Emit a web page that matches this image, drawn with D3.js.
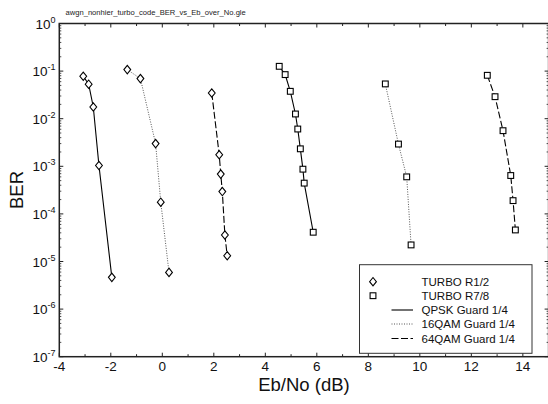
<!DOCTYPE html>
<html><head><meta charset="utf-8">
<script src="https://cdn.jsdelivr.net/npm/d3@7"></script>
<style>body{margin:0;background:#fff}svg{display:block;font-family:"Liberation Sans",Arial,sans-serif}</style>
</head><body>
<svg id="c" width="548" height="404"></svg>
<script>
const titleText = "awgn_nonhier_turbo_code_BER_vs_Eb_over_No.gle";
const xTicks = [-4,-2,0,2,4,6,8,10,12,14];
const yExps = [0,-1,-2,-3,-4,-5,-6,-7];

const qpskR12_x = [-3.07,-2.86,-2.68,-2.46,-1.96];
const qpskR12_y = [0.078,0.053,0.0176,1.04e-3,4.65e-6];
const qam16R12_x = [-1.36,-0.85,-0.26,-0.06,0.26];
const qam16R12_y = [0.1075,0.0695,3.0e-3,1.76e-4,5.9e-6];
const qam64R12_x = [1.92,2.21,2.27,2.33,2.43,2.52];
const qam64R12_y = [0.0347,1.75e-3,6.85e-4,2.95e-4,3.6e-5,1.32e-5];
const qpskR78_x = [4.54,4.77,4.97,5.17,5.26,5.36,5.46,5.51,5.86];
const qpskR78_y = [0.126,0.0844,0.0376,0.01256,6.07e-3,2.33e-3,8.7e-4,4.43e-4,4.12e-5];
const qam16R78_x = [8.66,9.17,9.49,9.66];
const qam16R78_y = [0.0538,2.93e-3,6.0e-4,2.23e-5];
const qam64R78_x = [12.62,12.92,13.23,13.53,13.62,13.71];
const qam64R78_y = [0.0816,0.029,5.6e-3,6.4e-4,1.9e-4,4.6e-5];

const legendLabels = ["TURBO R1/2","TURBO R7/8","QPSK Guard 1/4","16QAM Guard 1/4","64QAM Guard 1/4"];

const L=59.3, R=548.6, T=23.5, B=356.7;
const x = d3.scaleLinear().domain([-4,15]).range([L,R]);
const y = d3.scaleLog().domain([1e-7,1]).range([B,T]);
const svg = d3.select("#c");
const axisCol = "#222";

const styles = {
  solid: {dash:null, col:"#000", w:1.1},
  dotted: {dash:"1,1.5", col:"#555", w:1},
  dashed: {dash:"7,2.5", col:"#000", w:1.1}
};
const series = [
  {x:qpskR12_x,y:qpskR12_y,m:"diamond",s:"solid"},
  {x:qam16R12_x,y:qam16R12_y,m:"diamond",s:"dotted"},
  {x:qam64R12_x,y:qam64R12_y,m:"diamond",s:"dashed"},
  {x:qpskR78_x,y:qpskR78_y,m:"square",s:"solid"},
  {x:qam16R78_x,y:qam16R78_y,m:"square",s:"dotted"},
  {x:qam64R78_x,y:qam64R78_y,m:"square",s:"dashed"}
];

// title
svg.append("text").attr("x",65.5).attr("y",14.5).attr("font-size",7.6).attr("fill","#222").text(titleText);

// minor/major ticks
const g = svg.append("g").attr("stroke",axisCol);
const xMinor = d3.range(-4,16,1);
xMinor.forEach(v=>{
  const major = v%2===0;
  const len = major?4:2.5;
  g.append("line").attr("x1",x(v)).attr("x2",x(v)).attr("y1",B).attr("y2",B-len).attr("stroke-width",1);
  g.append("line").attr("x1",x(v)).attr("x2",x(v)).attr("y1",T).attr("y2",T+len).attr("stroke-width",1);
});
for(let e=-7;e<=0;e++){
  const major=[Math.pow(10,e)];
  const list=[];
  if(e<0){ for(let k=2;k<=9;k++) list.push(k*Math.pow(10,e)); }
  g.append("line").attr("x1",L).attr("x2",L+4).attr("y1",y(major[0])).attr("y2",y(major[0])).attr("stroke-width",1);
  g.append("line").attr("x1",R).attr("x2",R-4).attr("y1",y(major[0])).attr("y2",y(major[0])).attr("stroke-width",1);
  list.forEach(v=>{
    g.append("line").attr("x1",L).attr("x2",L+2).attr("y1",y(v)).attr("y2",y(v)).attr("stroke-width",0.8);
    g.append("line").attr("x1",R).attr("x2",R-2).attr("y1",y(v)).attr("y2",y(v)).attr("stroke-width",0.8);
  });
}
// frame
svg.append("rect").attr("x",L).attr("y",T).attr("width",R-L).attr("height",B-T)
  .attr("fill","none").attr("stroke",axisCol).attr("stroke-width",1.5);

// x tick labels
xTicks.forEach(v=>{
  svg.append("text").attr("x",x(v)).attr("y",B+14.5).attr("text-anchor","middle")
    .attr("font-size",13.5).attr("fill","#111").text(v);
});
// y tick labels
yExps.forEach(e=>{
  const t = svg.append("text").attr("x",55.5).attr("y",y(Math.pow(10,e))+5).attr("text-anchor","end")
    .attr("font-size",13.5).attr("fill","#111");
  t.append("tspan").text("10");
  t.append("tspan").attr("dy",-6).attr("font-size",9).text(e);
});
// axis titles
svg.append("text").attr("x",304).attr("y",391).attr("text-anchor","middle").attr("font-size",18.5).attr("fill","#111").text("Eb/No (dB)");
svg.append("text").attr("transform","translate(23,190) rotate(-90)").attr("text-anchor","middle").attr("font-size",18.5).attr("fill","#111").text("BER");

// series
const line = d3.line().x(d=>x(d[0])).y(d=>y(d[1]));
function marker(sel,type,cx,cy){
  if(type==="diamond"){
    sel.append("path").attr("d",`M${cx},${cy-4.2}L${cx+3.4},${cy}L${cx},${cy+4.2}L${cx-3.4},${cy}Z`)
      .attr("fill","#fff").attr("stroke","#000").attr("stroke-width",1.1);
  } else {
    sel.append("rect").attr("x",cx-2.9).attr("y",cy-2.9).attr("width",5.8).attr("height",5.8)
      .attr("fill","#fff").attr("stroke","#000").attr("stroke-width",1.1);
  }
}
series.forEach(s=>{
  const pts = s.x.map((v,i)=>[v,s.y[i]]);
  const st = styles[s.s];
  svg.append("path").attr("d",line(pts)).attr("fill","none").attr("stroke",st.col)
    .attr("stroke-width",st.w).attr("stroke-dasharray",st.dash);
  const mg = svg.append("g");
  pts.forEach(p=>marker(mg,s.m,x(p[0]),y(p[1])));
});

// legend
const lg = svg.append("g");
lg.append("rect").attr("x",359.5).attr("y",264.7).attr("width",172.5).attr("height",88.6)
  .attr("fill","#fff").attr("stroke","#333").attr("stroke-width",1);
const rowsY = [281.7,295.7,310,324,338.5];
marker(lg,"diamond",373,rowsY[0]);
marker(lg,"square",373,rowsY[1]);
["solid","dotted","dashed"].forEach((k,i)=>{
  const st=styles[k];
  lg.append("line").attr("x1",391.5).attr("x2",413).attr("y1",rowsY[i+2]).attr("y2",rowsY[i+2])
    .attr("stroke",st.col).attr("stroke-width",st.w).attr("stroke-dasharray",st.dash);
});
legendLabels.forEach((t,i)=>{
  lg.append("text").attr("x",421.5).attr("y",rowsY[i]+4).attr("font-size",11.5).attr("fill","#111").text(t);
});
</script>
</body></html>
